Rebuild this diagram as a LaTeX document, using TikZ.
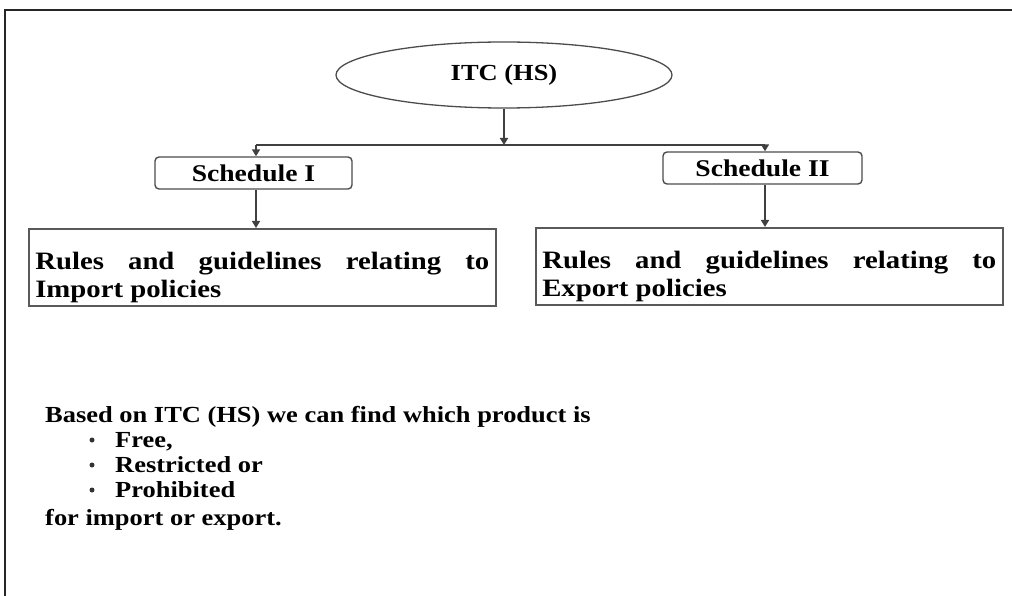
\documentclass[tikz,border=0pt]{standalone}
\usepackage{fontspec}
\setmainfont{Liberation Serif}[FakeStretch=1.15]
\usetikzlibrary{arrows.meta,shapes.geometric}
\begin{document}
\begin{tikzpicture}[x=1pt,y=-1pt,
  conn/.style={draw=black!75, line width=1.6pt},
  arr/.style={conn, -{Triangle[width=8pt,length=7pt]}},
  oval/.style={ellipse, draw=black!70, line width=1.3pt, minimum width=336pt, minimum height=66pt, inner sep=0pt, font=\fontsize{23}{26}\selectfont\bfseries},
  schedbox/.style={draw=black!70, line width=1.4pt, rounded corners=4pt, inner sep=0pt, minimum height=32pt, font=\fontsize{24}{27}\selectfont\bfseries},
  bigbox/.style={draw=black!65, line width=1.6pt, inner xsep=6.5pt, inner ysep=0pt, text width=454pt, align=justify, font=\fontsize{25}{28}\selectfont\bfseries},
  plain/.style={anchor=base west, inner sep=0pt, font=\fontsize{23}{25}\selectfont\bfseries},
  dot/.style={circle, fill=black!80, inner sep=0pt, minimum size=5pt},
  frame/.style={draw=black!85, line width=2.2pt}
]
\useasboundingbox (0,0) rectangle (1012,596);
% frame (top and left edges visible)
\coordinate (ftl) at (5,10);
\coordinate (ftr) at (1012,10);
\coordinate (fbl) at (5,596);
\draw[frame] (ftr) -- (ftl) -- (fbl);

\node[oval] (itc) at (504,75) {ITC (HS)};
\coordinate (j) at (504,145);
\coordinate (jl) at (256,145);
\coordinate (jr) at (765,145);
\draw[conn] (jl) -- (jr);
\draw[arr] (itc.south) -- (j);

\node[schedbox, minimum width=197pt] (s1) at (253.5,173) {Schedule I};
\node[schedbox, minimum width=199pt] (s2) at (762.5,168) {Schedule II};

\node[bigbox, anchor=north west] (b1) at (28,228) {\rule{0pt}{41pt}Rules and guidelines relating to\linebreak Import policies\rule[-8pt]{0pt}{8pt}};
\node[bigbox, anchor=north west] (b2) at (535,227) {\rule{0pt}{41pt}Rules and guidelines relating to\linebreak Export policies\rule[-8pt]{0pt}{8pt}};

\draw[arr] (jl) -- (jl |- s1.north);
\draw[arr] (jr) -- (jr |- s2.north);
\draw[arr] (jl |- s1.south) -- (jl |- b1.north);
\draw[arr] (jr |- s2.south) -- (jr |- b2.north);

\node[plain] (t0) at (45,422) {Based on ITC (HS) we can find which product is};
\node[dot] (m1) at (92,440) {};
\node[plain] (t1) at (115,447) {Free,};
\node[dot] (m2) at (92,465) {};
\node[plain] (t2) at (115,472) {Restricted or};
\node[dot] (m3) at (92,490) {};
\node[plain] (t3) at (115,497) {Prohibited};
\node[plain] (t4) at (45,525) {for import or export.};
\end{tikzpicture}
\end{document}
